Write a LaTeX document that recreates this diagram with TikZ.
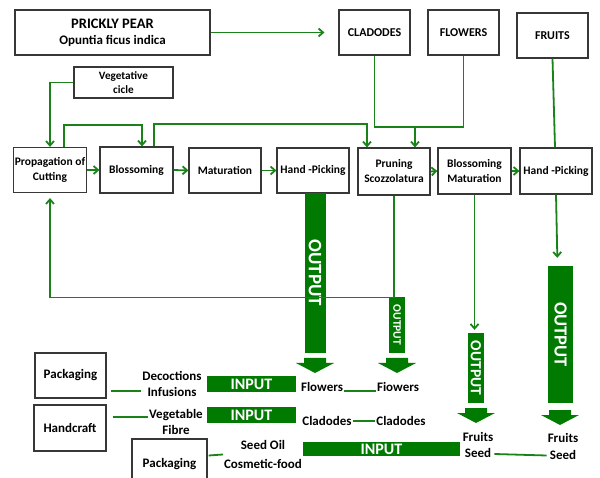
\documentclass[tikz,border=0pt]{standalone}
\usepackage{fontspec}
\setmainfont{Carlito}
\usetikzlibrary{arrows.meta}

\definecolor{leafgreen}{RGB}{25,130,25}
\definecolor{bargreen}{RGB}{0,122,0}
\definecolor{boxgray}{RGB}{55,55,55}

\tikzset{
  box/.style={draw=boxgray, line width=1.2pt, align=center, inner sep=1pt,
    font=\fontsize{11.5}{15}\selectfont\bfseries},
  link/.style={draw=leafgreen, line width=1.8pt},
  flow/.style={link, -{Straight Barb[length=4.5pt,width=8pt]}},
  bar/.style={fill=bargreen, text=white, inner sep=0pt},
  prod/.style={align=center, inner sep=1pt, font=\fontsize{13}{16.5}\selectfont\bfseries},
  downhead/.pic={\fill[bargreen] (-11,0) -- (11,0) -- (11,5) -- (19,5) -- (0,15) -- (-19,5) -- (-11,5) -- cycle;}
}

\begin{document}
\begin{tikzpicture}[x=1pt, y=-1pt]
    \useasboundingbox (0,0) rectangle (600,478);

    % Sources
    \node[box, minimum width=195, minimum height=45, font=\fontsize{13}{16}\selectfont\bfseries] (pear) at (112.5,32.5) {{\fontsize{14.5}{16}\selectfont PRICKLY PEAR}\\Opuntia ficus indica};
    \node[box, minimum width=71, minimum height=45, font=\fontsize{12}{15}\selectfont\bfseries] (clad) at (374.5,32.5) {CLADODES};
    \node[box, minimum width=71, minimum height=45, font=\fontsize{12}{15}\selectfont\bfseries] (flow) at (463.5,32.5) {FLOWERS};
    \node[box, minimum width=71, minimum height=45, font=\fontsize{12}{15}\selectfont\bfseries] (fruit) at (552.5,35.5) {FRUITS};
    \node[box, minimum width=99, minimum height=31, font=\fontsize{11.2}{14}\selectfont\bfseries] (veg) at (123.5,82.5) {Vegetative\\cicle};

    % Crop cycle
    \node[box, minimum width=72, minimum height=45] (prop) at (50,170) {Propagation of\\Cutting};
    \node[box, minimum width=73, minimum height=46] (bloss) at (136.5,170) {Blossoming};
    \node[box, minimum width=72, minimum height=45] (mat) at (225,170.5) {Maturation};
    \node[box, minimum width=72, minimum height=45] (hp) at (313,170.5) {Hand -Picking};
    \node[box, minimum width=72, minimum height=47] (prune) at (394,171.5) {Pruning\\Scozzolatura};
    \node[box, minimum width=73, minimum height=46] (blmat) at (474.5,171) {Blossoming\\Maturation};
    \node[box, minimum width=72, minimum height=46] (hp2) at (556,171) {Hand -Picking};

    \draw[flow] (pear.east) -- ([xshift=-14pt]clad.west);
    \draw[flow] (veg.west) -| (prop.north);
    \draw[flow] ([xshift=14pt]prop.north) -- ++(0,-22) -| ([xshift=5.5pt]bloss.north);
    \draw[flow] ([xshift=17.5pt]bloss.north) -- ++(0,-22) -| ([xshift=-27pt]prune.north);

    \coordinate (merge) at (415,127);
    \draw[link] (clad.south) |- (merge) -| (flow.south);
    \draw[flow] (merge) -- ([xshift=21pt]prune.north);
    \draw[link] (fruit.south) -- ([xshift=-1pt]hp2.north);

    \draw[flow] (prop.east) -- (bloss.west);
    \draw[flow] (bloss.east) -- (mat.west);
    \draw[flow] (mat.east) -- (hp.west);
    \draw[flow] (prune.east) -- (blmat.west);
    \draw[flow] (blmat.east) -- (hp2.west);

    % Outputs
    \node[bar, rotate=-90, minimum width=160, minimum height=21, font=\fontsize{19}{19}\selectfont\bfseries] (out1) at (315,273) {OUTPUT};
    \pic at (315,358) {downhead};

    \node[bar, rotate=-90, minimum width=56, minimum height=16, font=\fontsize{11.5}{11.5}\selectfont\bfseries] (out2) at (397,325) {OUTPUT};
    \pic at (397,358) {downhead};
    \draw[link] (prune.south) -- ++(0,102) coordinate (back);
    \draw[flow, shorten >=5pt] (back) -| (prop.south);

    \node[bar, rotate=-90, minimum width=70, minimum height=16, font=\fontsize{15.5}{15.5}\selectfont\bfseries] (out3) at (476,368) {OUTPUT};
    \pic at (476,408) {downhead};
    \draw[flow, shorten >=3pt] (blmat.south) -- (blmat.south |- out3.west);

    \node[bar, rotate=-90, minimum width=137, minimum height=25, font=\fontsize{18.5}{18.5}\selectfont\bfseries] (out4) at (560.5,334.5) {OUTPUT};
    \pic at (560,410) {downhead};
    \draw[flow, shorten >=8pt] (hp2.south) -- ([xshift=-3pt]out4.west);

    % Uses
    \node[box, minimum width=71, minimum height=45, font=\fontsize{13}{16}\selectfont\bfseries] (pack1) at (70.5,375.5) {Packaging};
    \node[box, minimum width=72, minimum height=46, font=\fontsize{13}{16}\selectfont\bfseries] (craft) at (70,428) {Handcraft};
    \node[box, minimum width=75, minimum height=50, font=\fontsize{13}{16}\selectfont\bfseries] (pack2) at (169.5,464) {Packaging};

    \node[prod] (dec) at (172,384) {Decoctions\\Infusions};
    \node[prod] (fib) at (176,422) {Vegetable\\Fibre};
    \node[prod, font=\fontsize{13}{19.5}\selectfont\bfseries] (oil) at (263,454.5) {Seed Oil\\Cosmetic-food};

    \node[bar, minimum width=89, minimum height=16, font=\fontsize{16}{16}\selectfont\bfseries] (in1) at (251.5,384) {INPUT};
    \node[bar, minimum width=89, minimum height=16, font=\fontsize{16}{16}\selectfont\bfseries] (in2) at (251.5,415) {INPUT};
    \node[bar, minimum width=157, minimum height=14, font=\fontsize{16}{16}\selectfont\bfseries] (in3) at (381.5,449) {INPUT};

    \node[prod] (fl1) at (322,387) {Flowers};
    \node[prod] (fl2) at (398,387) {Fiowers};
    \node[prod] (cl1) at (327,421) {Cladodes};
    \node[prod] (cl2) at (401,421) {Cladodes};
    \node[prod] (fs1) at (478,445) {Fruits\\Seed};
    \node[prod] (fs2) at (563,446.5) {Fruits\\Seed};

    \draw[link] ([shift={(4pt,-15.5pt)}]pack1.east) -- ([yshift=-7pt]dec.west);
    \draw[link] ([shift={(6pt,11pt)}]craft.east) -- ([yshift=5pt]fib.west);
    \draw[link] ([shift={(1pt,8.5pt)}]pack2.east) -- (oil.west);
    \draw[link] ([yshift=-4pt]fl1.east) -- ([yshift=-4pt]fl2.west);
    \draw[link] (cl1) -- (cl2);
    \draw[link] ([yshift=-9pt]fs1.east) -- ([yshift=-9pt]fs2.west);

\end{tikzpicture}
\end{document}
